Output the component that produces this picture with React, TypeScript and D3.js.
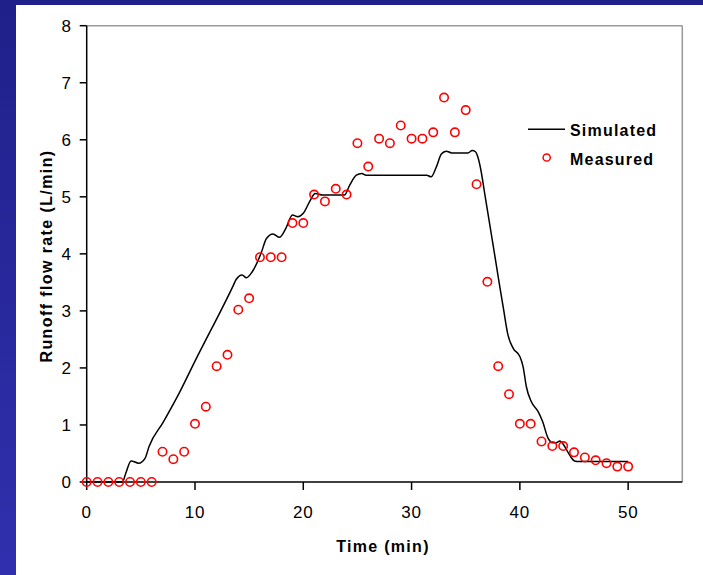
import React from "react";
import * as d3 from "d3";

// measured runoff, one reading per minute
const measT = d3.range(0, 51);
const measV = [
  0, 0, 0, 0, 0, 0, 0, 0.53, 0.4, 0.53, 1.02, 1.32, 2.03, 2.23, 3.02, 3.22,
  3.94, 3.94, 3.94, 4.54, 4.54, 5.04, 4.92, 5.14, 5.04, 5.94, 5.53, 6.02, 5.94,
  6.25, 6.02, 6.02, 6.13, 6.74, 6.13, 6.52, 5.22, 3.51, 2.03, 1.54, 1.02, 1.02,
  0.71, 0.63, 0.63, 0.52, 0.43, 0.38, 0.33, 0.27, 0.27,
];

// simulated curve
const simT = [
  0, 3.3, 3.6, 4.1, 4.8, 5.4, 5.75, 7.07, 8.6, 9.9, 13.5, 13.8, 14.35, 14.75,
  15.3, 16.1, 16.6, 17.2, 17.8, 18.4, 19.0, 19.5, 20.0, 20.6, 21.1, 21.8, 23.8,
  24.3, 24.9, 25.4, 25.8, 31.4, 31.8, 32.3, 32.75, 33.2, 33.7, 35.2, 35.6, 35.9,
  36.1, 36.4, 36.75, 37.6, 38.1, 38.5, 38.9, 39.4, 40.0, 40.3, 40.6, 41.05,
  41.7, 42.1, 42.6, 43.05, 43.35, 43.7, 44.05, 44.6, 45.05, 45.5, 50,
];
const simV = [
  0, 0, 0.15, 0.37, 0.33, 0.42, 0.62, 1.05, 1.58, 2.08, 3.43, 3.55, 3.63, 3.58,
  3.69, 4.01, 4.27, 4.35, 4.29, 4.45, 4.68, 4.65, 4.71, 4.92, 5.06, 5.03, 5.03,
  5.21, 5.38, 5.41, 5.38, 5.38, 5.35, 5.53, 5.75, 5.8, 5.77, 5.77, 5.81, 5.79,
  5.71, 5.47, 5.06, 4.07, 3.48, 3.02, 2.58, 2.34, 2.2, 2.02, 1.67, 1.41, 1.23,
  1.06, 0.77, 0.69, 0.69, 0.72, 0.65, 0.47, 0.37, 0.36, 0.36,
];

const xTicks = [0, 10, 20, 30, 40, 50];
const yTicks = [0, 1, 2, 3, 4, 5, 6, 7, 8];
const legendLabels = ["Simulated", "Measured"];

const W = 703;
const H = 575;
const font = "Arial, 'Liberation Sans', sans-serif";

export default function App() {
  const x = d3.scaleLinear().domain([0, 55]).range([86.7, 682.3]);
  const y = d3.scaleLinear().domain([0, 8]).range([482, 25.7]);

  const line = d3
    .line<number>()
    .x((_, i) => x(simT[i]))
    .y((d) => y(d))
    .curve(d3.curveMonotoneX);

  const x0 = x(0);
  const x1 = x(55);
  const yTop = y(8);
  const yBot = y(0);

  return (
    <div style={{ position: "absolute", left: 0, top: 0 }}>
      <svg width={W} height={H} style={{ display: "block" }}>
        <defs>
          <linearGradient id="bg" x1="0" y1="0" x2="0" y2="1">
            <stop offset="0" stopColor="#20208a" />
            <stop offset="1" stopColor="#3030ae" />
          </linearGradient>
        </defs>
        <rect width={W} height={H} fill="url(#bg)" />
        <rect x={16} y={5} width={W - 16} height={H - 5} fill="#fff" />

        {/* frame */}
        <line x1={x0} x2={x1} y1={yTop} y2={yTop} stroke="#999" strokeWidth={1.5} />
        <line x1={x1} x2={x1} y1={yTop} y2={yBot} stroke="#999" strokeWidth={1.5} />

        {/* axes */}
        <line x1={x0} x2={x1} y1={yBot} y2={yBot} stroke="#000" strokeWidth={1.5} />
        <line x1={x0} x2={x0} y1={yTop} y2={yBot} stroke="#000" strokeWidth={1.5} />
        {xTicks.map((t) => (
          <g key={"x" + t}>
            <line x1={x(t)} x2={x(t)} y1={yBot} y2={yBot + 8} stroke="#000" strokeWidth={1.5} />
            <text
              x={x(t)}
              y={518}
              textAnchor="middle"
              fontFamily={font}
              fontSize={17}
              letterSpacing={0.8}
            >
              {t}
            </text>
          </g>
        ))}
        {yTicks.map((t) => (
          <g key={"y" + t}>
            <line x1={x0 - 7} x2={x0} y1={y(t)} y2={y(t)} stroke="#000" strokeWidth={1.5} />
            <text
              x={71}
              y={y(t) + 6}
              textAnchor="end"
              fontFamily={font}
              fontSize={17}
            >
              {t}
            </text>
          </g>
        ))}

        {/* simulated */}
        <path d={line(simV) || ""} fill="none" stroke="#000" strokeWidth={1.5} />

        {/* measured */}
        {measV.map((v, i) => (
          <circle
            key={i}
            cx={x(measT[i])}
            cy={y(v)}
            r={4.2}
            fill="none"
            stroke="#ff0000"
            strokeWidth={1.6}
          />
        ))}

        {/* axis titles */}
        <text
          x={383}
          y={552}
          textAnchor="middle"
          fontFamily={font}
          fontSize={16}
          fontWeight="bold"
          letterSpacing={1.3}
        >
          Time (min)
        </text>
        <text
          transform={`translate(52,256) rotate(-90)`}
          textAnchor="middle"
          fontFamily={font}
          fontSize={16}
          fontWeight="bold"
          letterSpacing={1.4}
        >
          Runoff flow rate (L/min)
        </text>

        {/* legend */}
        <line x1={528} x2={565} y1={129.3} y2={129.3} stroke="#000" strokeWidth={1.5} />
        <circle cx={546.7} cy={157.5} r={3.6} fill="none" stroke="#ff0000" strokeWidth={1.5} />
        {legendLabels.map((l, i) => (
          <text
            key={l}
            x={570}
            y={135.5 + i * 29}
            fontFamily={font}
            fontSize={16}
            fontWeight="bold"
            letterSpacing={1.2}
          >
            {l}
          </text>
        ))}
      </svg>
    </div>
  );
}
